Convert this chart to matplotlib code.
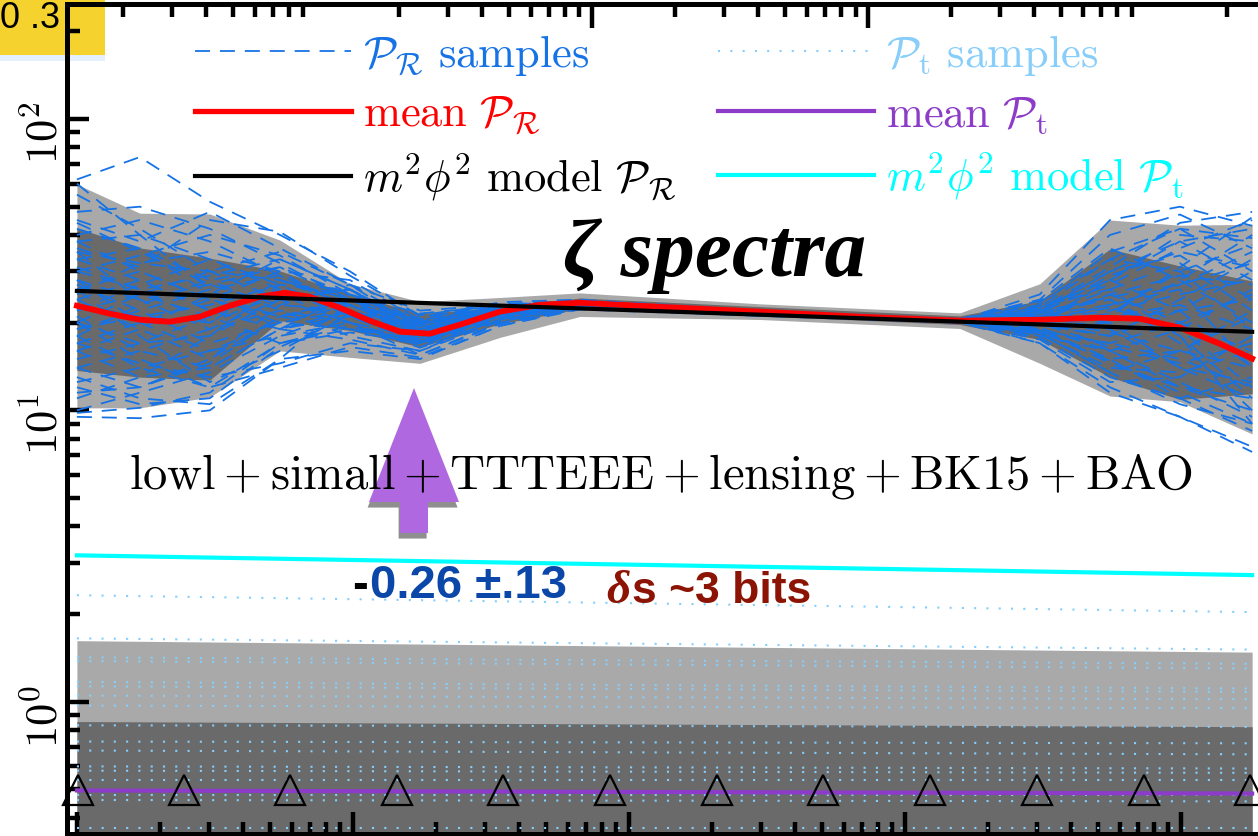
import numpy as np
import matplotlib
matplotlib.use("Agg")
import matplotlib.pyplot as plt
from matplotlib.patches import Rectangle, Polygon
from matplotlib.lines import Line2D
from matplotlib.ticker import FixedLocator, LogLocator, NullFormatter, FuncFormatter
import matplotlib.patheffects as pe

plt.rcParams["mathtext.fontset"] = "cm"

# ---------------------------------------------------------------- data
# wavenumber range of the reconstruction [Mpc^-1]
k_ends = [1.0e-4, 1.81]

# reconstruction nodes for the scalar spectrum
k_nodes = [1.00e-4, 1.69e-4, 3.03e-4, 5.44e-4, 9.75e-4, 1.75e-3, 3.41e-3,
           6.64e-3, 2.99e-2, 0.158, 0.308, 0.553, 0.991, 1.81]

# posterior bands of P_R (x 1e-10) at the nodes
pr_2sig_hi = [59.7, 47.5, 47.2, 38.4, 27.2, 23.6, 24.4, 25.3, 23.2, 21.6, 27.2, 45.0, 43.2, 43.5]
pr_1sig_hi = [42.2, 36.1, 33.3, 30.1, 25.1, 21.5, 22.5, 24.3, 22.7, 21.1, 23.8, 35.8, 31.3, 27.8]
pr_1sig_lo = [13.7, 13.0, 12.7, 20.3, 18.8, 16.5, 19.8, 22.3, 21.1, 19.7, 17.5, 13.0, 10.9, 11.4]
pr_2sig_lo = [10.2, 10.2, 11.1, 16.0, 15.2, 14.5, 17.8, 21.0, 20.5, 19.1, 14.5, 11.2, 10.7, 8.3]

# posterior samples of P_R at the nodes
pr_samples = [
    [62, 74, 52, 40, 30, 21, 22.5, 23.6, 21.8, 20.5, 22, 30, 38, 42],
    [45, 38, 48, 36, 27, 20, 23, 23.8, 21.9, 20.6, 24, 40, 47, 36],
    [18, 14, 12, 17, 19, 17.5, 21, 22.8, 21.4, 20.1, 19, 15, 11, 8.5],
    [30, 26, 20, 28, 24, 19, 22.3, 23.3, 21.7, 20.4, 21, 26, 32, 22],
    [12, 10.5, 11, 16.5, 21, 18, 21.5, 23.0, 21.5, 20.2, 18.5, 13.5, 10.5, 9],
    [25, 32, 35, 30, 22, 16.5, 20.5, 22.6, 21.3, 20.0, 17.5, 12.5, 13, 18],
    [38, 30, 24, 21, 23, 20.5, 23.5, 24.0, 22.0, 20.6, 23, 35, 42, 30],
    [16, 19, 25, 33, 26, 18.5, 21.8, 23.1, 21.6, 20.3, 20, 18, 24, 33],
    [21, 16, 14, 19, 25, 21.5, 22.8, 23.5, 21.8, 20.4, 22.5, 28, 22, 14],
    [55, 42, 30, 24, 20, 17, 21, 22.9, 21.5, 20.2, 18, 16, 19, 26],
    [11, 13, 18, 27, 26, 19.5, 22.5, 23.4, 21.7, 20.5, 21.5, 24, 17, 10],
    [33, 36, 28, 22, 18, 16, 20.8, 22.7, 21.4, 20.1, 19.5, 20, 28, 40],
    [14, 12, 15, 23, 27, 22, 23, 23.7, 21.9, 20.5, 23.5, 33, 30, 19],
    [27, 22, 17, 20, 22, 18, 21.9, 23.2, 21.6, 20.3, 19, 14.5, 12, 11],
    [20, 25, 30, 35, 27, 19, 22, 23.2, 21.6, 20.2, 17, 11.5, 9.5, 7.5],
    [40, 45, 38, 29, 23, 18.5, 22.2, 23.3, 21.7, 20.4, 22, 27, 36, 45],
    [17, 14.5, 13, 14.5, 17, 16, 20.2, 22.5, 21.3, 20.1, 20.5, 22, 25, 28],
    [24, 28, 22, 25, 20, 15.5, 20, 22.4, 21.2, 20.0, 18.5, 17, 15, 12],
    [13, 11, 10.5, 15, 24, 20, 22.6, 23.4, 21.8, 20.4, 21, 19, 14, 12.5],
    [35, 24, 19, 24, 26, 19.8, 22.4, 23.3, 21.6, 20.3, 20.8, 25, 20, 16],
    [48, 50, 42, 32, 24, 19, 21.6, 23.0, 21.5, 20.2, 19.8, 21.5, 30, 37],
    [19, 22, 26, 29, 21, 17, 21.2, 22.9, 21.5, 20.2, 18.8, 15, 16, 21],
    [28, 20, 16, 18, 20, 17.8, 21.7, 23.1, 21.6, 20.3, 21.2, 23, 26, 14],
    [15, 17, 21, 26, 23, 18.8, 22, 23.2, 21.7, 20.4, 22.2, 31, 44, 48],
    [22, 27, 33, 27, 21, 17.2, 21.3, 22.9, 21.5, 20.2, 19.2, 16, 12.5, 9.5],
    [10, 11.5, 13.5, 18, 22, 19, 22.1, 23.2, 21.6, 20.3, 20.3, 20.5, 22, 24],
    [30, 34, 40, 34, 25, 18, 21.4, 23.0, 21.5, 20.2, 17.8, 13, 11, 13],
    [26, 18, 12.5, 16, 21.5, 20.8, 22.9, 23.5, 21.8, 20.5, 22.8, 26, 18, 9],
    [42, 36, 25, 21, 19, 16.8, 21, 22.8, 21.4, 20.1, 18.2, 14, 13.5, 16],
    [18, 23, 28, 31, 25, 19.2, 22.2, 23.3, 21.7, 20.3, 20.7, 22.5, 19, 12],
    [9.8, 10.2, 11.5, 17, 19.5, 16.8, 20.6, 22.6, 21.3, 20.0, 20, 28, 38, 28],
    [60, 40, 26, 19, 17.5, 15.5, 19.8, 22.3, 21.2, 20.0, 21.6, 24.5, 27, 32],
    [23, 21, 20, 25, 23, 18.5, 22, 23.2, 21.6, 20.4, 25, 45, 50, 43],
    [9.5, 9.4, 10, 15, 16, 15, 19.5, 22.4, 21.2, 20.0, 17, 12, 9.5, 7.2],
    [36, 31, 45, 41, 29, 21.2, 23.2, 23.7, 21.9, 20.5, 23.8, 36, 28, 20],
    [20, 15, 12, 14, 16.5, 15.2, 19.5, 22.2, 21.1, 20.0, 19.5, 21, 31, 46],
    [28, 24, 27, 31, 24, 18.2, 21.6, 23.1, 21.6, 20.3, 21.4, 29, 35, 31],
    [14, 16, 19, 22, 20, 16.4, 20.4, 22.6, 21.4, 20.1, 18.8, 17, 20, 25],
    [33, 28, 22, 19, 21, 19.5, 22.6, 23.4, 21.7, 20.4, 22, 24, 18, 11],
    [19, 21, 23, 27, 25, 20.2, 22.4, 23.3, 21.7, 20.4, 20.5, 18.5, 16, 14],
    [24, 19, 15, 21, 24, 18.6, 21.4, 23.0, 21.5, 20.2, 21.8, 30, 34, 24],
    [38, 40, 33, 26, 21, 17.4, 21.2, 22.9, 21.5, 20.2, 19.6, 18, 22, 30],
    [12.5, 14, 16, 20, 23, 19.4, 22.3, 23.3, 21.7, 20.3, 20.1, 23, 27, 35],
    [26, 30, 24, 20, 19, 17.6, 21.5, 23.0, 21.6, 20.3, 21, 16, 12, 10],
    [20, 17, 18, 24, 26, 19.6, 22.5, 23.4, 21.7, 20.4, 22.4, 28, 40, 38],
    [31, 26, 29, 33, 26, 18.9, 21.8, 23.2, 21.6, 20.3, 19.9, 16.5, 14.5, 17],
    [16, 13, 14, 19, 22, 18.4, 21.7, 23.1, 21.6, 20.3, 20.9, 21, 23, 19],
    [44, 35, 27, 23, 22, 18.8, 21.9, 23.2, 21.6, 20.3, 18.6, 14.8, 11.5, 9],
    [22, 25, 21, 17, 18.5, 17.2, 21.0, 22.8, 21.4, 20.1, 20.4, 25, 29, 27],
    [17, 20, 24, 30, 28, 20.4, 22.7, 23.5, 21.8, 20.5, 21.6, 20, 14, 11],
    [35, 32, 30, 28, 23, 18.0, 21.3, 23.0, 21.5, 20.2, 18.4, 13.5, 16, 22],
    [11.5, 12, 14.5, 21, 24, 19.8, 22.5, 23.4, 21.7, 20.4, 22.6, 33, 42, 39],
]

# posterior mean of P_R
k_mean = [1.00e-4, 1.32e-4, 1.69e-4, 2.17e-4, 2.79e-4, 3.58e-4, 4.60e-4, 5.68e-4,
          6.98e-4, 8.97e-4, 1.15e-3, 1.48e-3, 1.90e-3, 2.44e-3, 3.41e-3, 4.76e-3,
          6.64e-3, 1.29e-2, 2.99e-2, 6.87e-2, 0.158, 0.308, 0.509, 0.710, 0.991,
          1.38, 1.81]
pr_mean = [22.86, 21.46, 20.47, 20.15, 20.96, 22.86, 24.53, 25.31, 24.53, 22.49,
           20.31, 18.63, 18.33, 19.68, 21.81, 23.03, 23.40, 22.67, 21.81, 20.96,
           20.31, 20.47, 20.80, 20.63, 19.22, 16.94, 15.06]

# m^2 phi^2 predictions at the ends of the k range
pr_model = [25.7, 18.6]
pt_model = [3.18, 2.72]

# tensor spectrum: mean, bands and samples (values at the ends of the k range)
pt_mean = [0.496, 0.484]
pt_2sig_hi = [1.62, 1.48]
pt_1sig_hi = [0.855, 0.821]
pt_1sig_lo = [0.20, 0.20]
pt_2sig_lo = [0.10, 0.10]
pt_samples_left = [2.32, 1.65, 1.42, 1.38, 1.17, 1.13, 1.05, 0.97, 0.83,
                   0.73, 0.68, 0.60, 0.58, 0.54, 0.48, 0.46, 0.37]
pt_samples_right = [2.03, 1.51, 1.35, 1.30, 1.11, 1.08, 1.02, 0.95, 0.82,
                    0.72, 0.66, 0.59, 0.57, 0.54, 0.48, 0.455, 0.37]

# marker positions along the tensor mean
marker_logk = [-3.996, -3.612, -3.228, -2.841, -2.457, -2.069, -1.681,
               -1.297, -0.909, -0.522, -0.134, 0.250]
marker_level = 0.496

ELL_PER_K = 13600.0          # multipole per unit wavenumber for the top axis

# ---------------------------------------------------------------- style
W, H = 1258, 836
BLUE = "#1673E6"
LBLUE = "#87CEFA"
PURPLE = "#8C3CC8"
CYAN = "#00FFFF"
LIGHT = "#A9A9A9"
DARK = "#6A6A6A"


def fx(px):
    return px / W


def fy(py):
    return 1.0 - py / H


fig = plt.figure(figsize=(W / 100, H / 100), dpi=100)
fig.patch.set_facecolor("white")

# badge in the top-left corner
fig.patches.append(Rectangle((0, fy(61)), fx(105), 6 / H, transform=fig.transFigure,
                             facecolor="#E4F0FD", edgecolor="none", zorder=-2))
fig.patches.append(Rectangle((0, fy(55)), fx(105), 55 / H, transform=fig.transFigure,
                             facecolor="#F6D22E", edgecolor="none", zorder=-1))
fig.text(fx(0), fy(28), "0 .3", fontsize=26, family="Liberation Sans",
         va="baseline", ha="left", zorder=-0.5)

ax = fig.add_axes([fx(66.7), fy(834), fx(1263) - fx(66.7), fy(4) - fy(834)])
ax.set_facecolor("none")
ax.set_xscale("log")
ax.set_yscale("log")
ax.set_xlim(10 ** -4.037, 10 ** 0.297)
ax.set_ylim(0.3516, 248.1)

# scalar spectrum
ax.fill_between(k_nodes, pr_2sig_lo, pr_2sig_hi, color=LIGHT, lw=0, zorder=1)
ax.fill_between(k_nodes, pr_1sig_lo, pr_1sig_hi, color=DARK, lw=0, zorder=1.1)
for s in pr_samples:
    ax.plot(k_nodes, s, color=BLUE, lw=1.3, ls=(0, (8.3, 5.5)), zorder=2)

# tensor spectrum
ax.fill_between(k_ends, pt_2sig_lo, pt_2sig_hi, color=LIGHT, lw=0, zorder=1)
ax.fill_between(k_ends, pt_1sig_lo, pt_1sig_hi, color=DARK, lw=0, zorder=1.1)
for a, b in zip(pt_samples_left, pt_samples_right):
    ax.plot(k_ends, [a, b], color=LBLUE, lw=1.5, ls=(0, (1.0, 4.9)), zorder=2)

ax.plot(k_mean, pr_mean, color="red", lw=4.2, zorder=4)
ax.plot(k_ends, pr_model, color="black", lw=3.0, zorder=5)
ax.plot(k_ends, pt_mean, color=PURPLE, lw=3.0, zorder=4)
ax.plot(k_ends, pt_model, color=CYAN, lw=3.0, zorder=4)
ax.plot(10 ** np.array(marker_logk), [marker_level] * len(marker_logk), ls="none",
        marker="^", ms=22, mfc="none", mec="black", mew=1.6, zorder=6, clip_on=False)

# axes styling
for side in ("left", "top", "bottom"):
    ax.spines[side].set_linewidth(3.6)
ax.spines["right"].set_visible(False)
ax.tick_params(which="both", direction="in", width=3.2, top=False, right=False,
               labelbottom=False)
ax.tick_params(which="major", length=16)
ax.tick_params(which="minor", length=9)
ax.tick_params(axis="y", which="major", labelsize=32, labelrotation=90, pad=0)
ax.yaxis.set_major_formatter(FuncFormatter(lambda v, p: r"$10^{%d}$" % int(round(np.log10(v)))))
ax.yaxis.set_minor_formatter(NullFormatter())
ax.xaxis.set_minor_locator(LogLocator(base=10, subs=np.arange(2, 10)))
ax.xaxis.set_minor_formatter(NullFormatter())

sec = ax.secondary_xaxis("top", functions=(lambda k: k * ELL_PER_K, lambda l: l / ELL_PER_K))
sec.xaxis.set_major_locator(FixedLocator([1e2, 1e3]))
sec.xaxis.set_minor_locator(LogLocator(base=10, subs=np.arange(2, 10)))
sec.xaxis.set_major_formatter(NullFormatter())
sec.xaxis.set_minor_formatter(NullFormatter())
sec.tick_params(which="both", direction="in", width=3.2, labeltop=False)
sec.tick_params(which="major", length=17)
sec.tick_params(which="minor", length=9)
sec.spines["top"].set_linewidth(3.6)

# legend
handles = [
    Line2D([], [], color=BLUE, lw=1.3, ls=(0, (8.3, 5.5))),
    Line2D([], [], color="red", lw=3.8),
    Line2D([], [], color="black", lw=3.0),
    Line2D([], [], color=LBLUE, lw=1.5, ls=(0, (1.0, 4.9))),
    Line2D([], [], color=PURPLE, lw=3.0),
    Line2D([], [], color=CYAN, lw=3.0),
]
labels = [
    r"$\mathcal{P}_{\mathcal{R}}\ \mathrm{samples}$",
    r"$\mathrm{mean}\ \mathcal{P}_{\mathcal{R}}$",
    r"$m^2\phi^2\ \mathrm{model}\ \mathcal{P}_{\mathcal{R}}$",
    r"$\mathcal{P}_{\mathrm{t}}\ \mathrm{samples}$",
    r"$\mathrm{mean}\ \mathcal{P}_{\mathrm{t}}$",
    r"$m^2\phi^2\ \mathrm{model}\ \mathcal{P}_{\mathrm{t}}$",
]
leg = ax.legend(handles, labels, ncol=2, loc="upper left",
                bbox_to_anchor=(fx(195), fy(33)), bbox_transform=fig.transFigure,
                frameon=False, fontsize=32, labelcolor="linecolor",
                handlelength=3.5, handletextpad=0.27, columnspacing=0.95,
                labelspacing=0.32, borderpad=0, borderaxespad=0)
leg.set_zorder(7)

# annotation arrow
arrow_px = [(414, 388), (459, 502), (428, 502), (428, 533), (400, 533), (400, 502), (369, 502)]
arrow = Polygon([(fx(x), fy(y)) for x, y in arrow_px], closed=True, transform=fig.transFigure,
                facecolor="#B068E0", edgecolor="none", zorder=2)
arrow.set_path_effects([pe.SimplePatchShadow(offset=(-1, -4), shadow_rgbFace="#333333", alpha=0.55),
                        pe.Normal()])
fig.patches.append(arrow)

# titles and labels
fig.text(fx(715), fy(276), "ζ spectra", ha="center", va="baseline", fontsize=60,
         family="Liberation Serif", style="italic", weight="bold", zorder=8)
fig.text(fx(661), fy(488),
         r"$\mathrm{lowl} + \mathrm{simall} + \mathrm{TTTEEE} + \mathrm{lensing}"
         r" + \mathrm{BK15} + \mathrm{BAO}$",
         ha="center", va="baseline", fontsize=35, zorder=8)
fig.text(fx(352), fy(598), "-", ha="left", va="baseline", fontsize=34,
         family="Liberation Sans", weight="bold", color="black", zorder=8)
fig.text(fx(370), fy(598), "0.26 ±.13", ha="left", va="baseline", fontsize=34,
         family="Liberation Sans", weight="bold", color="#0B47A8", zorder=8)
fig.text(fx(606), fy(603), "δ", ha="left", va="baseline", fontsize=34,
         family="Liberation Serif", style="italic", weight="bold", color="#8C1405", zorder=8)
fig.text(fx(632), fy(603), "s ~3 bits", ha="left", va="baseline", fontsize=32,
         family="Liberation Sans", weight="bold", color="#8C1405", zorder=8)

fig.savefig("out.png", dpi=100)
